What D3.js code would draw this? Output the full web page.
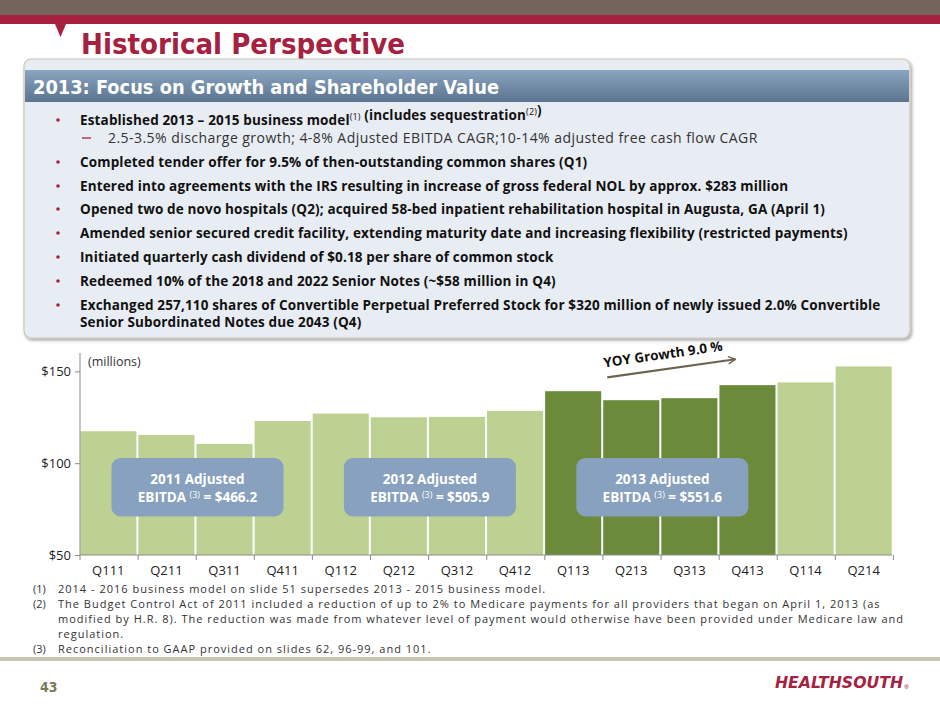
<!DOCTYPE html>
<html>
<head>
<meta charset="utf-8">
<script src="https://cdn.jsdelivr.net/npm/d3@7"></script>
<style>
  body { margin: 0; background: #fff; }
  svg { display: block; font-family: "Open Sans", Lato, sans-serif; }
</style>
</head>
<body>
<svg id="slide" width="940" height="705"></svg>
<script>
// quarterly adjusted EBITDA, $ millions
const quarters = ["Q111", "Q211", "Q311", "Q411", "Q112", "Q212", "Q312", "Q412",
                  "Q113", "Q213", "Q313", "Q413", "Q114", "Q214"];
const ebitda = [117.4, 115.4, 110.5, 123.0, 127.0, 125.0, 125.2, 128.5,
                139.2, 134.3, 135.4, 142.5, 144.0, 152.7];
const focusYear = "13";
const yTicks = [50, 100, 150];
const yDomain = [50, 160];

const annualYears = ["2011", "2012", "2013"];
const annualTotals = ["$466.2", "$505.9", "$551.6"];

const growthLabel = "YOY Growth 9.0 %";

const bullets = [
  {lvl: 0, parts: [["Established 2013 – 2015 business model"], ["(1)", "sup"], [" (includes sequestration"], ["(2)", "sup"], [")"]]},
  {lvl: 1, parts: [["2.5-3.5% discharge growth; 4-8% Adjusted EBITDA CAGR;10-14% adjusted free cash flow CAGR"]]},
  {lvl: 0, parts: [["Completed tender offer for 9.5% of then-outstanding common shares (Q1)"]]},
  {lvl: 0, parts: [["Entered into agreements with the IRS resulting in increase of gross federal NOL by approx. $283 million"]]},
  {lvl: 0, parts: [["Opened two de novo hospitals (Q2); acquired 58-bed inpatient rehabilitation hospital in Augusta, GA (April 1)"]]},
  {lvl: 0, parts: [["Amended senior secured credit facility, extending maturity date and increasing flexibility (restricted payments)"]]},
  {lvl: 0, parts: [["Initiated quarterly cash dividend of $0.18 per share of common stock"]]},
  {lvl: 0, parts: [["Redeemed 10% of the 2018 and 2022 Senior Notes (~$58 million in Q4)"]]},
  {lvl: 0, parts: [["Exchanged 257,110 shares of Convertible Perpetual Preferred Stock for $320 million of newly issued 2.0% Convertible"]]},
  {lvl: 2, parts: [["Senior Subordinated Notes due 2043 (Q4)"]]}
];

const footnotes = [
  ["(1)", "2014 - 2016 business model on slide 51 supersedes 2013 - 2015 business model."],
  ["(2)", "The Budget Control Act of 2011 included a reduction of up to 2% to Medicare payments for all providers that began on April 1, 2013 (as"],
  ["", "modified by H.R. 8). The reduction was made from whatever level of payment would otherwise have been provided under Medicare law and"],
  ["", "regulation."],
  ["(3)", "Reconciliation to GAAP provided on slides 62, 96-99, and 101."]
];

const crimson = "#a6213f";
const svg = d3.select("#slide");
const defs = svg.append("defs");

// ---- slide frame ----
svg.append("rect").attr("x", 0).attr("y", 0).attr("width", 940).attr("height", 15).attr("fill", "#75645c");
svg.append("rect").attr("x", 0).attr("y", 15).attr("width", 940).attr("height", 9).attr("fill", crimson);
svg.append("path").attr("d", "M55,24 L66,24 L60.5,37 Z").attr("fill", crimson);

svg.append("text")
  .attr("x", 81).attr("y", 54)
  .attr("fill", crimson)
  .style("font-family", "'DejaVu Sans Condensed', 'DejaVu Sans', sans-serif")
  .style("font-weight", "bold").style("font-size", "29px")
  .attr("textLength", 324).attr("lengthAdjust", "spacingAndGlyphs")
  .text("Historical Perspective");

// ---- bullet panel ----
const shadow = defs.append("filter").attr("id", "shadow").attr("x", "-5%").attr("y", "-5%").attr("width", "110%").attr("height", "115%");
shadow.append("feDropShadow").attr("dx", 1.5).attr("dy", 2).attr("stdDeviation", 1.5).attr("flood-color", "#000").attr("flood-opacity", 0.35);

const grad = defs.append("linearGradient").attr("id", "band").attr("x1", 0).attr("y1", 0).attr("x2", 0).attr("y2", 1);
grad.append("stop").attr("offset", "0%").attr("stop-color", "#8aa4c1");
grad.append("stop").attr("offset", "100%").attr("stop-color", "#5b7590");

svg.append("rect")
  .attr("x", 24).attr("y", 59).attr("width", 886).attr("height", 279).attr("rx", 7)
  .attr("fill", "#e8ecf3").attr("stroke", "#cdc6b4").attr("stroke-width", 1.2)
  .attr("filter", "url(#shadow)");
svg.append("rect").attr("x", 25).attr("y", 70).attr("width", 884).attr("height", 32).attr("fill", "url(#band)");

svg.append("text")
  .attr("x", 33).attr("y", 94)
  .attr("fill", "#fff")
  .style("font-family", "'DejaVu Sans Condensed', 'DejaVu Sans', sans-serif")
  .style("font-weight", "bold").style("font-size", "20px")
  .attr("textLength", 466).attr("lengthAdjust", "spacingAndGlyphs")
  .text("2013: Focus on Growth and Shareholder Value");

const lineY = [120, 138, 162, 186, 209, 233, 257, 281, 305, 322];
bullets.forEach((b, i) => {
  const y = lineY[i] + 5;
  if (b.lvl === 0) {
    svg.append("circle").attr("cx", 58).attr("cy", lineY[i]).attr("r", 1.8).attr("fill", crimson);
  } else if (b.lvl === 1) {
    svg.append("line").attr("x1", 82).attr("x2", 91).attr("y1", lineY[i]).attr("y2", lineY[i])
      .attr("stroke", crimson).attr("stroke-width", 1.3);
  }
  const t = svg.append("text")
    .attr("x", b.lvl === 1 ? 108 : 80).attr("y", y)
    .attr("fill", b.lvl === 1 ? "#333" : "#111")
    .style("font-size", b.lvl === 1 ? "14px" : "13.5px")
    .style("letter-spacing", b.lvl === 1 ? "0.45px" : "0.15px")
    .style("font-weight", b.lvl === 1 ? "normal" : "bold");
  b.parts.forEach(p => {
    if (p[1] === "sup") {
      t.append("tspan").attr("dy", -5).style("font-size", "9px").style("font-weight", "normal").text(p[0]);
      t.append("tspan").attr("dy", 5).text("");
    } else {
      t.append("tspan").text(p[0]);
    }
  });
});

// ---- bar chart ----
const x = d3.scaleBand().domain(quarters).range([80, 892]).paddingInner(0.035).paddingOuter(0.005);
const y = d3.scaleLinear().domain(yDomain).range([555, 353]);
const step = x.step();

const chart = svg.append("g");

chart.selectAll("rect.bar")
  .data(quarters)
  .join("rect")
  .attr("class", "bar")
  .attr("x", d => x(d))
  .attr("width", x.bandwidth())
  .attr("y", (d, i) => y(ebitda[i]))
  .attr("height", (d, i) => y(yDomain[0]) - y(ebitda[i]))
  .attr("fill", d => d.endsWith(focusYear) ? "#6b8a3a" : "#bdd292");

// y axis
const yAxis = chart.append("g")
  .attr("transform", "translate(80,0)")
  .call(d3.axisLeft(y).tickValues(yTicks).tickFormat(d => "$" + d).tickSize(5).tickPadding(4));
yAxis.select(".domain").attr("stroke", "#8c8c8c").attr("d", `M0,${y(yDomain[1])}V${y(yDomain[0])}`);
yAxis.selectAll(".tick line").attr("stroke", "#8c8c8c");
yAxis.selectAll(".tick text").style("font-size", "13px").style("font-family", "'Open Sans', sans-serif").attr("fill", "#222");

// x axis: labels centred in each band, boundary ticks between bands
const xAxis = chart.append("g")
  .attr("transform", `translate(0,${y(yDomain[0])})`)
  .call(d3.axisBottom(x).tickSize(0).tickPadding(11));
xAxis.select(".domain").attr("stroke", "#8c8c8c").attr("d", `M80,0H892`);
xAxis.selectAll(".tick text").style("font-size", "13px").style("font-family", "'Open Sans', sans-serif").attr("fill", "#222");
xAxis.selectAll("line.bound")
  .data(quarters.concat(["end"]))
  .join("line")
  .attr("class", "bound")
  .attr("x1", (d, i) => 80 + i * step).attr("x2", (d, i) => 80 + i * step)
  .attr("y1", 0).attr("y2", 5)
  .attr("stroke", "#8c8c8c");

chart.append("text")
  .attr("x", 88).attr("y", 366)
  .style("font-size", "12.5px").attr("fill", "#333")
  .text("(millions)");

// annual callouts, centred on each year's four quarters
annualYears.forEach((yr, i) => {
  const q = quarters.filter(d => d.endsWith(yr.slice(2)));
  const cx = (x(q[0]) + x(q[q.length - 1]) + x.bandwidth()) / 2 + 2;
  const top = y(102.8);
  const g = chart.append("g");
  g.append("rect")
    .attr("x", cx - 86).attr("y", top).attr("width", 172).attr("height", y(71) - top)
    .attr("rx", 9).attr("fill", "#87a1be");
  g.append("text").attr("x", cx).attr("y", top + 26)
    .attr("text-anchor", "middle").attr("fill", "#fff")
    .style("font-size", "13.5px").style("font-weight", "bold")
    .text(yr + " Adjusted");
  const t = g.append("text").attr("x", cx).attr("y", top + 44)
    .attr("text-anchor", "middle").attr("fill", "#fff")
    .style("font-size", "13.5px").style("font-weight", "bold");
  t.append("tspan").text("EBITDA ");
  t.append("tspan").attr("dy", -4).style("font-size", "9px").style("font-weight", "normal").text("(3)");
  t.append("tspan").attr("dy", 4).text(" = " + annualTotals[i]);
});

// growth arrow across 2013
const ax1 = x("Q213") + 4, ay1 = y(146.7);
const ax2 = x("Q413") + 16, ay2 = y(156.6);
defs.append("marker").attr("id", "head").attr("viewBox", "0 0 10 10")
  .attr("refX", 9).attr("refY", 5).attr("markerWidth", 9).attr("markerHeight", 9)
  .attr("orient", "auto").attr("markerUnits", "userSpaceOnUse")
  .append("path").attr("d", "M1,1 L9,5 L1,9").attr("fill", "none").attr("stroke", "#6e634f").attr("stroke-width", 1.6);
chart.append("line")
  .attr("x1", ax1).attr("y1", ay1).attr("x2", ax2).attr("y2", ay2)
  .attr("stroke", "#6e634f").attr("stroke-width", 2.2)
  .attr("marker-end", "url(#head)");
const ang = Math.atan2(ay2 - ay1, ax2 - ax1) * 180 / Math.PI;
chart.append("text")
  .attr("transform", `translate(${ax1 - 3},${ay1 - 10}) rotate(${ang})`)
  .style("font-size", "13.5px").style("font-weight", "bold").attr("fill", "#111")
  .text(growthLabel);

// ---- footnotes ----
const noteY = [593, 608, 623, 638, 653];
footnotes.forEach((f, i) => {
  if (f[0]) svg.append("text").attr("x", 33).attr("y", noteY[i])
    .style("font-size", "11px").attr("fill", "#333").text(f[0]);
  svg.append("text").attr("x", 58).attr("y", noteY[i])
    .style("font-size", "11px").style("letter-spacing", "1px").attr("fill", "#333").text(f[1]);
});

// ---- footer ----
svg.append("rect").attr("x", 0).attr("y", 657).attr("width", 940).attr("height", 4).attr("fill", "#cbc5b3");
svg.append("text").attr("x", 40).attr("y", 692)
  .style("font-family", "'DejaVu Sans Condensed', sans-serif")
  .style("font-size", "14px").style("font-weight", "bold").attr("fill", "#7c7a58")
  .text("43");
svg.append("text").attr("x", 775).attr("y", 688)
  .style("font-family", "'DejaVu Sans Condensed', 'DejaVu Sans', sans-serif")
  .style("font-size", "16px").style("font-weight", "bold").style("font-style", "italic")
  .attr("fill", crimson)
  .attr("textLength", 128).attr("lengthAdjust", "spacingAndGlyphs")
  .text("HEALTHSOUTH");
svg.append("text").attr("x", 904).attr("y", 689)
  .style("font-size", "6px").attr("fill", crimson).text("®");
</script>
</body>
</html>
